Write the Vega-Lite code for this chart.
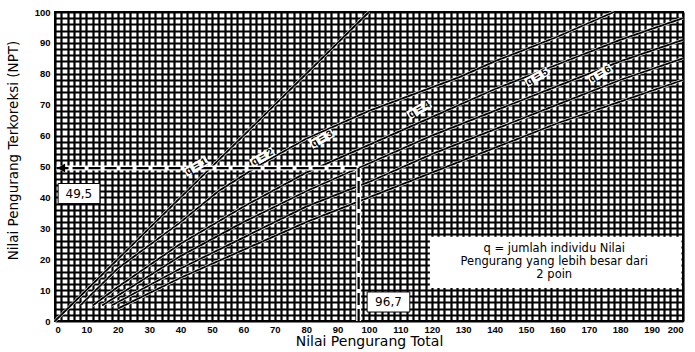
{
  "$schema": "https://vega.github.io/schema/vega-lite/v6.json",
  "width": 628,
  "height": 309,
  "autosize": {"type": "none"},
  "padding": {"left": 55, "top": 12, "right": 12, "bottom": 31},
  "background": "white",
  "config": {
    "view": {"stroke": "black", "strokeWidth": 2},
    "font": "Liberation Sans"
  },
  "datasets": {
    "curves": [
      {"q": "1", "tdv": 0, "cdv": 0}, {"q": "1", "tdv": 100, "cdv": 100},
      {"q": "2", "tdv": 8, "cdv": 5}, {"q": "2", "tdv": 20, "cdv": 17}, {"q": "2", "tdv": 40, "cdv": 32}, {"q": "2", "tdv": 52, "cdv": 42}, {"q": "2", "tdv": 66, "cdv": 51}, {"q": "2", "tdv": 80, "cdv": 59}, {"q": "2", "tdv": 100, "cdv": 68}, {"q": "2", "tdv": 129, "cdv": 79}, {"q": "2", "tdv": 140, "cdv": 84}, {"q": "2", "tdv": 160, "cdv": 92}, {"q": "2", "tdv": 178, "cdv": 100},
      {"q": "3", "tdv": 12, "cdv": 5}, {"q": "3", "tdv": 20, "cdv": 11}, {"q": "3", "tdv": 40, "cdv": 25}, {"q": "3", "tdv": 60, "cdv": 37}, {"q": "3", "tdv": 80, "cdv": 48}, {"q": "3", "tdv": 100, "cdv": 57}, {"q": "3", "tdv": 120, "cdv": 66}, {"q": "3", "tdv": 140, "cdv": 75}, {"q": "3", "tdv": 160, "cdv": 83}, {"q": "3", "tdv": 180, "cdv": 91}, {"q": "3", "tdv": 200, "cdv": 98},
      {"q": "4", "tdv": 15, "cdv": 5}, {"q": "4", "tdv": 40, "cdv": 21}, {"q": "4", "tdv": 60, "cdv": 32}, {"q": "4", "tdv": 80, "cdv": 42}, {"q": "4", "tdv": 96.7, "cdv": 49.5}, {"q": "4", "tdv": 120, "cdv": 60}, {"q": "4", "tdv": 140, "cdv": 68}, {"q": "4", "tdv": 160, "cdv": 76}, {"q": "4", "tdv": 180, "cdv": 84}, {"q": "4", "tdv": 200, "cdv": 91},
      {"q": "5", "tdv": 18, "cdv": 5}, {"q": "5", "tdv": 40, "cdv": 17}, {"q": "5", "tdv": 60, "cdv": 27}, {"q": "5", "tdv": 80, "cdv": 37}, {"q": "5", "tdv": 100, "cdv": 45}, {"q": "5", "tdv": 120, "cdv": 54}, {"q": "5", "tdv": 140, "cdv": 62}, {"q": "5", "tdv": 160, "cdv": 70}, {"q": "5", "tdv": 180, "cdv": 78}, {"q": "5", "tdv": 200, "cdv": 85},
      {"q": "6", "tdv": 20, "cdv": 4}, {"q": "6", "tdv": 40, "cdv": 14}, {"q": "6", "tdv": 60, "cdv": 23}, {"q": "6", "tdv": 80, "cdv": 32}, {"q": "6", "tdv": 100, "cdv": 40}, {"q": "6", "tdv": 120, "cdv": 48}, {"q": "6", "tdv": 140, "cdv": 56}, {"q": "6", "tdv": 160, "cdv": 64}, {"q": "6", "tdv": 180, "cdv": 71}, {"q": "6", "tdv": 200, "cdv": 78}
    ],
    "qlabels": [
      {"label": "q = 1", "tdv": 45, "cdv": 50},
      {"label": "q = 2", "tdv": 66, "cdv": 53},
      {"label": "q = 3", "tdv": 85, "cdv": 59},
      {"label": "q = 4", "tdv": 116, "cdv": 68.5},
      {"label": "q = 5", "tdv": 153.5, "cdv": 79},
      {"label": "q = 6", "tdv": 173.6, "cdv": 80}
    ],
    "boxes": [
      {"text": "49,5", "x1": 1, "x2": 14.3, "y1": 38, "y2": 44.5, "tx": 7.6, "ty": 41.2},
      {"text": "96,7", "x1": 99.4, "x2": 113, "y1": 2.9, "y2": 9.4, "tx": 106.2, "ty": 6.1}
    ],
    "note": [
      {"line": "q = jumlah individu Nilai", "tx": 159, "ty": 23.2},
      {"line": "Pengurang yang lebih besar dari", "tx": 159, "ty": 19.0},
      {"line": "2 poin", "tx": 159, "ty": 14.8}
    ],
    "notebox": [{"x1": 119.4, "x2": 199.5, "y1": 10.7, "y2": 27.3}],
    "guide": [
      {"x1": 0.5, "x2": 96.7, "y1": 49.5, "y2": 49.5},
      {"x1": 96.7, "x2": 96.7, "y1": 0, "y2": 49.5}
    ],
    "arrow": [{"x": 2, "y": 49.5}]
  },
  "layer": [
    {
      "data": {"name": "curves"},
      "mark": {"type": "line", "color": "white", "strokeWidth": 2.8},
      "encoding": {
        "x": {
          "field": "tdv", "type": "quantitative",
          "scale": {"domain": [0, 200], "nice": false},
          "axis": {
            "title": "Nilai Pengurang Total",
            "titleFont": "DejaVu Sans", "titleFontSize": 14, "titleFontWeight": "normal", "titleColor": "black", "titlePadding": 1,
            "tickCount": 100,
            "labelExpr": "datum.value % 10 == 0 ? datum.label : ''",
            "labelOverlap": false,
            "labelFont": "Liberation Sans", "labelFontSize": 9.5, "labelFontWeight": "bold", "labelColor": "black", "labelPadding": 3,
            "ticks": false, "domain": false,
            "grid": true, "gridColor": "black", "gridWidth": 2.2, "gridOpacity": 1
          }
        },
        "y": {
          "field": "cdv", "type": "quantitative",
          "scale": {"domain": [0, 100], "nice": false},
          "axis": {
            "title": "Nilai Pengurang Terkoreksi (NPT)",
            "titleFont": "DejaVu Sans", "titleFontSize": 13.5, "titleFontWeight": "normal", "titleColor": "black", "titlePadding": 14, "titleY": 138,
            "tickCount": 50,
            "labelExpr": "datum.value % 10 == 0 ? datum.label : ''",
            "labelOverlap": false,
            "labelFont": "Liberation Sans", "labelFontSize": 9.5, "labelFontWeight": "bold", "labelColor": "black", "labelPadding": 5,
            "ticks": false, "domain": false,
            "grid": true, "gridColor": "black", "gridWidth": 2.2, "gridOpacity": 1
          }
        },
        "detail": {"field": "q"}
      }
    },
    {
      "data": {"name": "curves"},
      "mark": {"type": "line", "color": "black", "strokeWidth": 1.8},
      "encoding": {
        "x": {"field": "tdv", "type": "quantitative"},
        "y": {"field": "cdv", "type": "quantitative"},
        "detail": {"field": "q"}
      }
    },
    {
      "data": {"name": "guide"},
      "mark": {"type": "rule", "color": "white", "strokeWidth": 5},
      "encoding": {
        "x": {"field": "x1", "type": "quantitative"},
        "x2": {"field": "x2"},
        "y": {"field": "y1", "type": "quantitative"},
        "y2": {"field": "y2"}
      }
    },
    {
      "data": {"name": "guide"},
      "mark": {"type": "rule", "color": "black", "strokeWidth": 2.2, "strokeDash": [12, 4]},
      "encoding": {
        "x": {"field": "x1", "type": "quantitative"},
        "x2": {"field": "x2"},
        "y": {"field": "y1", "type": "quantitative"},
        "y2": {"field": "y2"}
      }
    },
    {
      "data": {"name": "arrow"},
      "mark": {"type": "point", "shape": "triangle-left", "filled": true, "color": "black", "size": 80, "opacity": 1},
      "encoding": {
        "x": {"field": "x", "type": "quantitative"},
        "y": {"field": "y", "type": "quantitative"}
      }
    },
    {
      "data": {"name": "qlabels"},
      "mark": {"type": "point", "shape": "M-1.7,-0.6L1.7,-0.6L1.7,0.6L-1.7,0.6Z", "filled": true, "color": "white", "size": 220, "angle": -30, "opacity": 1},
      "encoding": {
        "x": {"field": "tdv", "type": "quantitative"},
        "y": {"field": "cdv", "type": "quantitative"}
      }
    },
    {
      "data": {"name": "qlabels"},
      "mark": {"type": "text", "font": "Liberation Sans", "fontSize": 10, "fontWeight": "bold", "color": "black", "angle": -30, "align": "center", "baseline": "middle"},
      "encoding": {
        "x": {"field": "tdv", "type": "quantitative"},
        "y": {"field": "cdv", "type": "quantitative"},
        "text": {"field": "label"}
      }
    },
    {
      "data": {"name": "boxes"},
      "mark": {"type": "rect", "fill": "white", "stroke": "black", "strokeWidth": 1},
      "encoding": {
        "x": {"field": "x1", "type": "quantitative"},
        "x2": {"field": "x2"},
        "y": {"field": "y1", "type": "quantitative"},
        "y2": {"field": "y2"}
      }
    },
    {
      "data": {"name": "boxes"},
      "mark": {"type": "text", "font": "DejaVu Sans", "fontSize": 12, "color": "black", "align": "center", "baseline": "middle"},
      "encoding": {
        "x": {"field": "tx", "type": "quantitative"},
        "y": {"field": "ty", "type": "quantitative"},
        "text": {"field": "text"}
      }
    },
    {
      "data": {"name": "notebox"},
      "mark": {"type": "rect", "fill": "white"},
      "encoding": {
        "x": {"field": "x1", "type": "quantitative"},
        "x2": {"field": "x2"},
        "y": {"field": "y1", "type": "quantitative"},
        "y2": {"field": "y2"}
      }
    },
    {
      "data": {"name": "note"},
      "mark": {"type": "text", "font": "DejaVu Sans", "fontSize": 11.5, "color": "black", "align": "center", "baseline": "middle"},
      "encoding": {
        "x": {"field": "tx", "type": "quantitative"},
        "y": {"field": "ty", "type": "quantitative"},
        "text": {"field": "line"}
      }
    }
  ]
}
